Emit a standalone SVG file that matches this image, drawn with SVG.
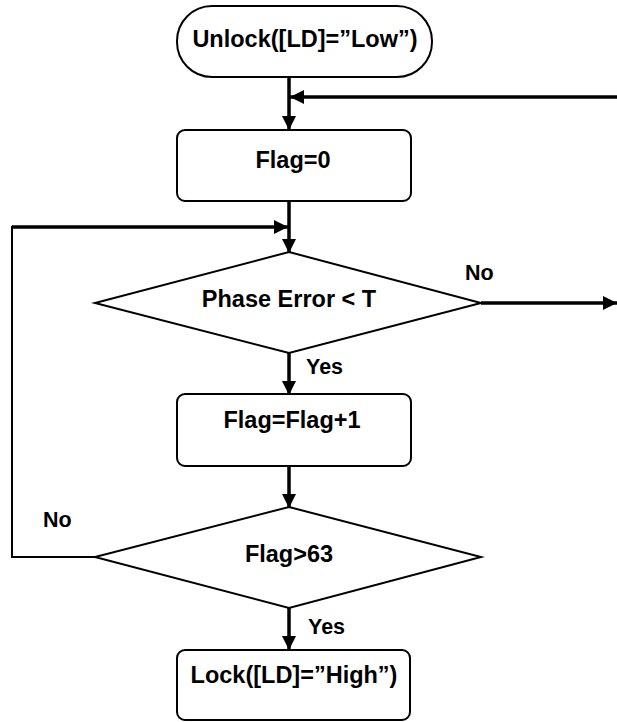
<svg xmlns="http://www.w3.org/2000/svg" width="617" height="722" viewBox="0 0 617 722">
<defs>
<style>
.shape{fill:#fff;stroke:#000;stroke-width:2}
.t{font-family:"Liberation Sans",Arial,sans-serif;font-weight:bold;font-size:23.5px;fill:#000}
.lbl{font-family:"Liberation Sans",Arial,sans-serif;font-weight:bold;font-size:21.5px;fill:#000}
.c{text-anchor:middle}
.line{fill:none;stroke:#000;stroke-width:3.5}
.thin{fill:none;stroke:#000;stroke-width:2}
</style>
<marker id="ah" viewBox="0 0 10 10" refX="10" refY="5" markerWidth="14" markerHeight="14" markerUnits="userSpaceOnUse" orient="auto">
<path d="M0,0 L10,5 L0,10 Z" fill="#000"/>
</marker>
</defs>
<rect width="617" height="722" fill="#fff"/>
<g id="connectors">
<line class="line" x1="289" y1="77" x2="289" y2="130" marker-end="url(#ah)"/>
<line class="line" x1="617" y1="97" x2="290" y2="97" marker-end="url(#ah)"/>
<line class="line" x1="289" y1="201" x2="289" y2="253" marker-end="url(#ah)"/>
<polyline class="thin" points="95,557 12,557 12,227 200,227"/>
<line class="line" x1="12" y1="227" x2="288" y2="227" marker-end="url(#ah)"/>
<line class="line" x1="481" y1="303" x2="617" y2="303" marker-end="url(#ah)"/>
<line class="line" x1="289" y1="353" x2="289" y2="395" marker-end="url(#ah)"/>
<line class="line" x1="289" y1="466" x2="289" y2="508" marker-end="url(#ah)"/>
<line class="line" x1="289" y1="608" x2="289" y2="650" marker-end="url(#ah)"/>
</g>
<g id="start">
<rect class="shape" x="177" y="6" width="255" height="71" rx="35" ry="35"/>
<text class="t c" x="305" y="47">Unlock([LD]=”Low”)</text>
</g>
<g id="flag0">
<rect class="shape" x="177" y="130" width="234" height="71" rx="8" ry="8"/>
<text class="t c" x="293" y="168">Flag=0</text>
</g>
<g id="phase">
<polygon class="shape" points="289,252 481,303 289,353 95,303"/>
<text class="t c" x="289" y="307">Phase Error &lt; T</text>
</g>
<g id="inc">
<rect class="shape" x="177" y="394" width="234" height="72" rx="8" ry="8"/>
<text class="t c" x="292" y="428">Flag=Flag+1</text>
</g>
<g id="cmp">
<polygon class="shape" points="289,507 481,557 289,608 95,557"/>
<text class="t c" x="289" y="562">Flag&gt;63</text>
</g>
<g id="lock">
<rect class="shape" x="177" y="650" width="233" height="70" rx="8" ry="8"/>
<text class="t c" x="294" y="683">Lock([LD]=”High”)</text>
</g>
<g id="labels">
<text class="lbl" x="465" y="280">No</text>
<text class="lbl" x="306" y="374">Yes</text>
<text class="lbl" x="43" y="527">No</text>
<text class="lbl" x="308" y="634">Yes</text>
</g>
</svg>
